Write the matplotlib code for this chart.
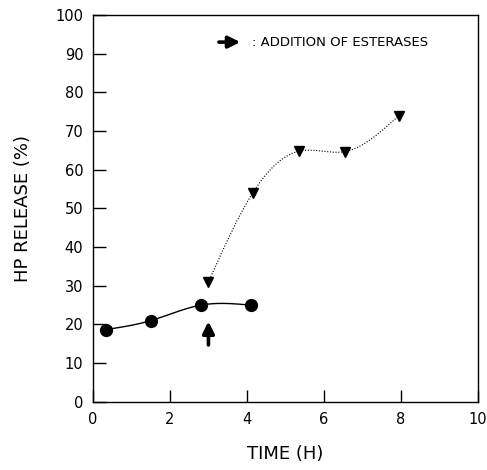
import numpy as np
import matplotlib
matplotlib.use("Agg")
import matplotlib.pyplot as plt

# data
time_before = [0.35, 1.5, 2.8, 4.1]
release_before = [18.7, 21.0, 25.0, 25.0]

time_after = [3.0, 4.15, 5.35, 6.55, 7.95]
release_after = [31.0, 54.0, 64.8, 64.7, 74.0]

arrow_time = 3.0
arrow_y = (14.0, 21.5)

x_ticks = [0, 2, 4, 6, 8, 10]
y_ticks = list(range(0, 101, 10))


def smooth(x, y, n=200):
    # natural cubic spline, just for drawing the curve through the points
    x = np.asarray(x, float)
    y = np.asarray(y, float)
    k = len(x)
    h = np.diff(x)
    A = np.zeros((k, k))
    b = np.zeros(k)
    A[0, 0] = A[-1, -1] = 1
    for i in range(1, k - 1):
        A[i, i - 1] = h[i - 1]
        A[i, i] = 2 * (h[i - 1] + h[i])
        A[i, i + 1] = h[i]
        b[i] = 6 * ((y[i + 1] - y[i]) / h[i] - (y[i] - y[i - 1]) / h[i - 1])
    M = np.linalg.solve(A, b)
    xs = np.linspace(x[0], x[-1], n)
    idx = np.clip(np.searchsorted(x, xs) - 1, 0, k - 2)
    x0, x1 = x[idx], x[idx + 1]
    hh = x1 - x0
    t0 = x1 - xs
    t1 = xs - x0
    ys = (M[idx] * t0**3 + M[idx + 1] * t1**3) / (6 * hh) \
        + (y[idx] / hh - M[idx] * hh / 6) * t0 \
        + (y[idx + 1] / hh - M[idx + 1] * hh / 6) * t1
    return xs, ys


plt.rcParams["font.family"] = ["DejaVu Sans"]

fig = plt.figure(figsize=(4.87, 4.70), dpi=100)
ax = fig.add_axes([0.191, 0.145, 0.790, 0.823])

xs, ys = smooth(time_before, release_before)
ax.plot(xs, ys, color="black", lw=1.0)
ax.plot(time_before, release_before, "o", color="black", ms=8.5)

xs, ys = smooth(time_after, release_after)
ax.plot(xs, ys, color="black", lw=0.8, ls=(0, (1, 1.5)))
ax.plot(time_after, release_after, "v", color="black", ms=7.5)

# addition of esterases
head = "-|>,head_length=0.7,head_width=0.35"
ax.annotate("", xy=(arrow_time, arrow_y[1]), xytext=(arrow_time, arrow_y[0]),
            arrowprops=dict(arrowstyle=head, color="black", lw=2.6))
ax.annotate("", xy=(3.9, 93.0), xytext=(3.2, 93.0),
            arrowprops=dict(arrowstyle=head, color="black", lw=2.6))
ax.text(4.12, 93.0, ": ADDITION OF ESTERASES", fontsize=9.5,
        va="center", ha="left")

ax.set_xlim(0, 10)
ax.set_ylim(0, 100)
ax.set_xticks(x_ticks)
ax.set_yticks(y_ticks)
ax.tick_params(direction="in", length=9, width=1, labelsize=10.5,
               top=False, right=False, pad=7)
ax.set_xlabel("TIME (H)", fontsize=13, labelpad=13)
ax.set_ylabel("HP RELEASE (%)", fontsize=13, labelpad=17)
for s in ax.spines.values():
    s.set_linewidth(1.0)

fig.savefig("out.png", dpi=100)
